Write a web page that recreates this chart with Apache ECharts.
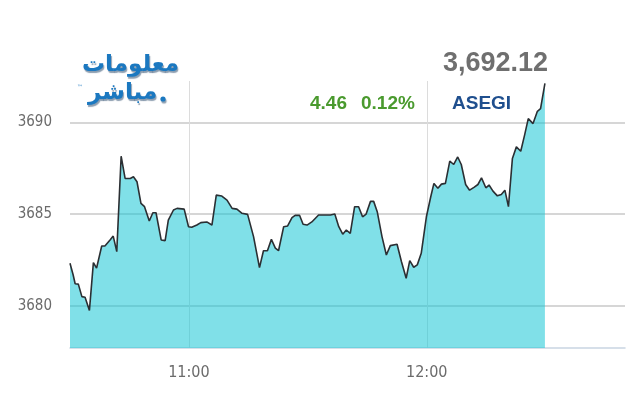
<!DOCTYPE html>
<html>
<head>
<meta charset="utf-8">
<script src="https://cdn.jsdelivr.net/npm/echarts@6/dist/echarts.min.js"></script>
<style>html,body{margin:0;padding:0;background:#fff}#c{width:640px;height:400px}</style>
</head>
<body>
<div id="c"></div>
<script>
// minutes after 10:00
const minutes = [30.0,30.8,31.3,32.1,33.0,33.8,34.9,35.9,36.7,38.0,38.8,40.1,40.9,41.8,42.9,43.9,45.2,46.0,46.9,47.9,48.8,50.0,50.9,51.7,53.0,54.0,54.8,56.1,57.0,58.8,59.9,60.7,62.0,63.0,64.5,65.8,66.9,68.3,69.6,70.9,72.1,73.4,74.8,76.3,77.8,78.8,79.8,80.8,81.8,82.6,83.9,84.9,86.0,86.8,87.9,88.8,89.8,91.0,92.7,94.0,95.7,96.8,97.8,98.8,99.7,100.7,101.8,102.8,103.8,104.7,105.8,106.6,107.5,108.7,109.8,110.8,112.5,113.6,114.8,115.7,116.7,117.6,118.6,119.9,121.0,121.8,122.8,123.7,124.7,125.8,126.8,127.8,128.7,129.8,130.8,131.9,132.9,133.8,134.9,135.7,136.7,137.8,138.8,139.7,140.6,141.6,142.6,143.7,144.7,145.6,146.8,147.9,148.7,149.8];
const values = [3682.32,3681.68,3681.20,3681.18,3680.50,3680.47,3679.75,3682.35,3682.05,3683.26,3683.26,3683.59,3683.80,3682.95,3688.15,3686.94,3686.94,3687.03,3686.76,3685.58,3685.40,3684.62,3685.07,3685.07,3683.59,3683.55,3684.67,3685.22,3685.31,3685.27,3684.31,3684.28,3684.40,3684.53,3684.57,3684.40,3686.03,3685.98,3685.76,3685.31,3685.27,3685.04,3684.98,3683.77,3682.08,3683.00,3683.00,3683.62,3683.14,3683.00,3684.31,3684.35,3684.80,3684.93,3684.93,3684.44,3684.40,3684.57,3684.95,3684.95,3684.95,3685.00,3684.31,3683.90,3684.13,3683.95,3685.40,3685.40,3684.85,3685.00,3685.69,3685.69,3685.13,3683.77,3682.77,3683.28,3683.35,3682.41,3681.50,3682.46,3682.10,3682.23,3682.86,3684.85,3685.94,3686.67,3686.40,3686.63,3686.67,3687.88,3687.70,3688.11,3687.70,3686.61,3686.30,3686.45,3686.61,3686.97,3686.43,3686.58,3686.25,3685.99,3686.07,3686.30,3685.40,3688.03,3688.66,3688.42,3689.33,3690.20,3689.93,3690.60,3690.74,3692.12];
const xTicks = [60, 120];
const xTickLabels = ['11:00', '12:00'];
const yTicks = [3680, 3685, 3690];
const yTickLabels = ['3680', '3685', '3690'];
const lastValue = '3,692.12';
const change = '4.46';
const changePct = '0.12%';
const indexName = 'ASEGI';
const logoLine1 = 'معلومات';
const logoLine2 = 'مباشر';

const chart = echarts.init(document.getElementById('c'), null, {renderer: 'canvas'});
const labelFont = "'Liberation Sans Narrow', 'DejaVu Sans Condensed', sans-serif";
const logoStyle = {fill: '#1b78c0', textShadowColor: 'rgba(0,40,80,0.45)', textShadowOffsetX: 1, textShadowOffsetY: 2, textShadowBlur: 1};
chart.setOption({
  animation: false,
  backgroundColor: '#ffffff',
  grid: {left: 70, right: 15, top: 81, bottom: 52},
  xAxis: {
    type: 'value', min: 30, max: 170,
    axisLine: {show: true, lineStyle: {color: '#c9d5e2', width: 1.5}},
    axisTick: {show: false, customValues: xTicks},
    axisLabel: {customValues: xTicks, color: '#6b6b6b', fontSize: 16, fontFamily: labelFont, margin: 17,
      formatter: v => xTickLabels[xTicks.indexOf(v)] || ''},
    splitLine: {show: true, lineStyle: {color: '#dcdcdc', width: 1}}
  },
  yAxis: {
    type: 'value', min: 3677.7, max: 3692.25, scale: true,
    axisLine: {show: false},
    axisTick: {show: false, customValues: yTicks},
    axisLabel: {customValues: yTicks, color: '#6b6b6b', fontSize: 15, fontFamily: labelFont, margin: 18,
      formatter: v => yTickLabels[yTicks.indexOf(v)] || ''},
    splitLine: {show: true, lineStyle: {color: '#c8c8c8', width: 1.5}}
  },
  series: [{
    type: 'line',
    data: minutes.map((m, i) => [m, values[i]]),
    symbol: 'none',
    lineStyle: {color: '#2b2f33', width: 1.6},
    areaStyle: {color: 'rgb(24,199,213)', opacity: 0.55, origin: 'start'}
  }],
  graphic: [
    {type: 'text', left: 443, top: 50, style: {text: lastValue, fill: '#6f6f6f', font: "bold 27px 'Liberation Sans', Arial, sans-serif"}},
    {type: 'text', left: 310, top: 94, style: {text: change, fill: '#4a9a2e', font: "bold 19px 'Liberation Sans', Arial, sans-serif"}},
    {type: 'text', left: 361, top: 94, style: {text: changePct, fill: '#4a9a2e', font: "bold 19px 'Liberation Sans', Arial, sans-serif"}},
    {type: 'text', left: 452, top: 94, style: {text: indexName, fill: '#1f4f8e', font: "bold 19px 'Liberation Sans', Arial, sans-serif"}},
    {type: 'text', left: 82, top: 54, style: Object.assign({text: logoLine1, font: "bold 23px 'DejaVu Sans', sans-serif"}, logoStyle)},
    {type: 'text', left: 88, top: 82, style: Object.assign({text: logoLine2, font: "bold 23px 'DejaVu Sans', sans-serif"}, logoStyle)},
    {type: 'circle', shape: {cx: 163, cy: 99, r: 2.6}, style: {fill: '#1b78c0', shadowColor: 'rgba(0,40,80,0.45)', shadowOffsetX: 1, shadowOffsetY: 2, shadowBlur: 1}},
    {type: 'text', left: 77, top: 84, style: {text: '™', fill: '#1b78c0', font: "6px 'DejaVu Sans', sans-serif"}}
  ]
});
</script>
</body>
</html>
